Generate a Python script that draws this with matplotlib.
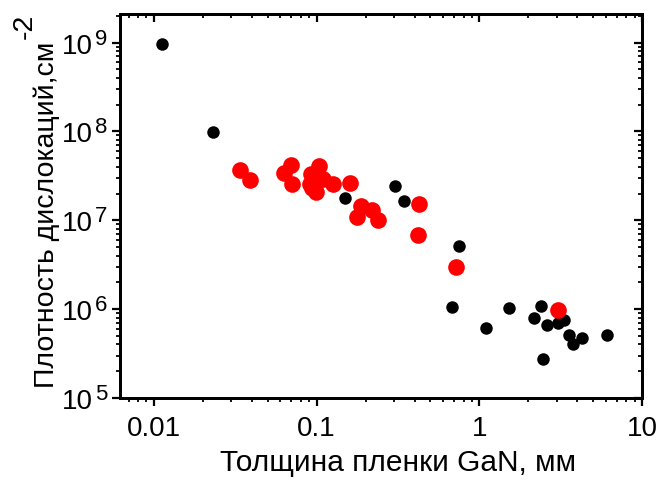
import numpy as np
import matplotlib
matplotlib.use("Agg")
import matplotlib.pyplot as plt
from matplotlib.ticker import LogLocator, NullFormatter
from matplotlib.transforms import blended_transform_factory, offset_copy

plt.rcParams['font.family'] = ['Liberation Sans', 'DejaVu Sans']

# Data (thickness in mm, dislocation density in cm^-2)
black_x = [0.0112, 0.0231, 0.149, 0.303, 0.346, 0.753, 0.684, 1.10, 1.53, 2.18,
           2.40, 2.46, 2.62, 3.06, 3.32, 3.56, 3.76, 4.27, 6.08]
black_y = [9.6e8, 9.8e7, 1.79e7, 2.4e7, 1.63e7, 5.07e6, 1.07e6, 6.15e5, 1.03e6, 7.96e5,
           1.08e6, 2.73e5, 6.7e5, 7.0e5, 7.57e5, 5.16e5, 4.06e5, 4.74e5, 5.08e5]

red_x = [0.0338, 0.0392, 0.0699, 0.0628, 0.0708, 0.0927, 0.0906, 0.0996, 0.109, 0.104,
         0.094, 0.126, 0.16, 0.187, 0.178, 0.218, 0.237, 0.427, 0.422, 0.718, 3.06]
red_y = [3.71e7, 2.86e7, 4.14e7, 3.41e7, 2.58e7, 3.34e7, 2.58e7, 2.08e7, 2.94e7, 4.1e7,
         2.3e7, 2.53e7, 2.62e7, 1.45e7, 1.09e7, 1.29e7, 1.01e7, 1.51e7, 6.87e6, 2.97e6, 9.9e5]

xlabel = 'Толщина пленки GaN, мм'
ylabel_main = 'Плотность дислокаций,см'
ylabel_sup = '-2'
xticks = [0.01, 0.1, 1, 10]
xticklabels = ['0.01', '0.1', '1', '10']
yticks = [1e5, 1e6, 1e7, 1e8, 1e9]
ytick_base = '10'
ytick_exps = ['5', '6', '7', '8', '9']

fig = plt.figure(figsize=(6.58, 4.81), dpi=100)
ax = fig.add_axes([0.1824, 0.1705, 0.7933, 0.7985])

ax.plot(black_x, black_y, 'o', color='black', ms=9, mew=0, zorder=3)
ax.plot(red_x, red_y, 'o', color='#ff0000', ms=12, mew=0, zorder=4)

ax.set_xscale('log')
ax.set_yscale('log')
xlim = (0.0062, 10)
ylim = (1e5, 2.1e9)
ax.set_xlim(*xlim)
ax.set_ylim(*ylim)

ax.set_xticks(xticks)
ax.set_xticklabels(xticklabels)
ax.set_yticks(yticks)
ax.set_yticklabels([ytick_base] * len(yticks))
minloc = lambda: LogLocator(base=10, subs=np.arange(2, 10), numticks=100)
ax.xaxis.set_minor_locator(minloc())
ax.yaxis.set_minor_locator(minloc())
ax.xaxis.set_minor_formatter(NullFormatter())
ax.yaxis.set_minor_formatter(NullFormatter())

ax.tick_params(which='major', direction='out', length=5.5, width=1.6, labelsize=20)
ax.tick_params(axis='x', which='major', pad=7)
ax.tick_params(axis='y', which='major', pad=14)
ax.tick_params(which='minor', direction='out', length=3, width=1.3)
for s in ax.spines.values():
    s.set_linewidth(1.9)

# exponents of y tick labels
trans = blended_transform_factory(ax.transAxes, ax.transData)
for yv, e in zip(yticks, ytick_exps):
    ax.text(0, yv, e, transform=offset_copy(trans, fig=fig, x=-25, y=-1, units='dots'),
            ha='left', va='baseline', fontsize=16, clip_on=False)

# mirrored inward ticks on top and right
axt = ax.twiny()
axt.set_xscale('log')
axt.set_xlim(*xlim)
axt.set_xticks(xticks)
axt.xaxis.set_minor_locator(minloc())
axt.tick_params(axis='x', which='major', direction='in', length=5.5, width=1.6, labeltop=False)
axt.tick_params(axis='x', which='minor', direction='in', length=3, width=1.3)
axt.xaxis.set_major_formatter(NullFormatter())
axt.xaxis.set_minor_formatter(NullFormatter())

axr = ax.twinx()
axr.set_yscale('log')
axr.set_ylim(*ylim)
axr.set_yticks(yticks)
axr.yaxis.set_minor_locator(minloc())
axr.tick_params(axis='y', which='major', direction='in', length=5.5, width=1.6, labelright=False)
axr.tick_params(axis='y', which='minor', direction='in', length=3, width=1.3)
axr.yaxis.set_major_formatter(NullFormatter())
axr.yaxis.set_minor_formatter(NullFormatter())
for a in (axt, axr):
    for s in a.spines.values():
        s.set_linewidth(1.9)

ax.set_xlabel(xlabel, fontsize=21.5)
ax.xaxis.set_label_coords(0.533, -0.130)
ax.set_ylabel(ylabel_main, fontsize=20.5)
ax.yaxis.set_label_coords(-0.115, 0.479)

# superscript of y label, placed after the label end
fig.canvas.draw()
bb = ax.yaxis.label.get_window_extent()
fig.text((bb.x0 + 4) / fig.bbox.width, (bb.y1 + 3) / fig.bbox.height, ylabel_sup,
         rotation=90, ha='right', va='bottom', fontsize=20.5)

fig.savefig('out.png', dpi=100)
